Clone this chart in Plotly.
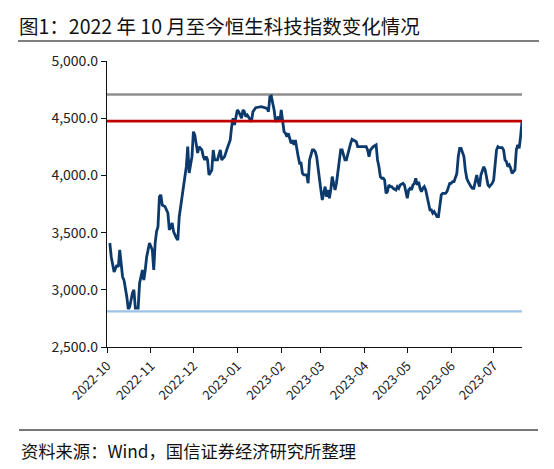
import plotly.graph_objs as go

# 恒生科技指数
dates = [
    "2022-10-03", "2022-10-04", "2022-10-06", "2022-10-08", "2022-10-09", "2022-10-10",
    "2022-10-12", "2022-10-13", "2022-10-15", "2022-10-16", "2022-10-17", "2022-10-19",
    "2022-10-20", "2022-10-21", "2022-10-23", "2022-10-24", "2022-10-26", "2022-10-27",
    "2022-10-28", "2022-10-29", "2022-10-31", "2022-11-02", "2022-11-03", "2022-11-04",
    "2022-11-05", "2022-11-06", "2022-11-07", "2022-11-08", "2022-11-09", "2022-11-11",
    "2022-11-13", "2022-11-14", "2022-11-16", "2022-11-17", "2022-11-19", "2022-11-20",
    "2022-11-21", "2022-11-23", "2022-11-24", "2022-11-26", "2022-11-27", "2022-11-28",
    "2022-11-30", "2022-12-01", "2022-12-02", "2022-12-03", "2022-12-04", "2022-12-05",
    "2022-12-07", "2022-12-08", "2022-12-09", "2022-12-10", "2022-12-11", "2022-12-12",
    "2022-12-14", "2022-12-15", "2022-12-16", "2022-12-18", "2022-12-20", "2022-12-21",
    "2022-12-23", "2022-12-25", "2022-12-27", "2022-12-28", "2022-12-29", "2022-12-30",
    "2022-12-31", "2023-01-01", "2023-01-02", "2023-01-04", "2023-01-05", "2023-01-06",
    "2023-01-07", "2023-01-08", "2023-01-11", "2023-01-12", "2023-01-14", "2023-01-18",
    "2023-01-22", "2023-01-23", "2023-01-24", "2023-01-25", "2023-01-26", "2023-01-27",
    "2023-01-28", "2023-01-29", "2023-01-30", "2023-01-31", "2023-02-01", "2023-02-02",
    "2023-02-03", "2023-02-04", "2023-02-05", "2023-02-06", "2023-02-08", "2023-02-09",
    "2023-02-10", "2023-02-11", "2023-02-12", "2023-02-13", "2023-02-14", "2023-02-15",
    "2023-02-16", "2023-02-17", "2023-02-19", "2023-02-20", "2023-02-21", "2023-02-22",
    "2023-02-23", "2023-02-24", "2023-02-25", "2023-02-26", "2023-02-27", "2023-02-28",
    "2023-03-01", "2023-03-02", "2023-03-03", "2023-03-04", "2023-03-05", "2023-03-06",
    "2023-03-07", "2023-03-08", "2023-03-09", "2023-03-10", "2023-03-11", "2023-03-12",
    "2023-03-13", "2023-03-14", "2023-03-15", "2023-03-16", "2023-03-17", "2023-03-18",
    "2023-03-19", "2023-03-20", "2023-03-21", "2023-03-22", "2023-03-23", "2023-03-24",
    "2023-03-26", "2023-03-27", "2023-03-28", "2023-03-30", "2023-03-31", "2023-04-02",
    "2023-04-03", "2023-04-04", "2023-04-05", "2023-04-06", "2023-04-07", "2023-04-09",
    "2023-04-10", "2023-04-11", "2023-04-12", "2023-04-13", "2023-04-14", "2023-04-15",
    "2023-04-16", "2023-04-17", "2023-04-18", "2023-04-19", "2023-04-20", "2023-04-21",
    "2023-04-23", "2023-04-24", "2023-04-25", "2023-04-26", "2023-04-28", "2023-04-29",
    "2023-04-30", "2023-05-01", "2023-05-02", "2023-05-03", "2023-05-04", "2023-05-05",
    "2023-05-06", "2023-05-07", "2023-05-08", "2023-05-09", "2023-05-10", "2023-05-11",
    "2023-05-12", "2023-05-13", "2023-05-14", "2023-05-15", "2023-05-16", "2023-05-17",
    "2023-05-18", "2023-05-19", "2023-05-20", "2023-05-21", "2023-05-22", "2023-05-23",
    "2023-05-24", "2023-05-25", "2023-05-26", "2023-05-28", "2023-05-29", "2023-05-30",
    "2023-05-31", "2023-06-01", "2023-06-02", "2023-06-03", "2023-06-04", "2023-06-05",
    "2023-06-06", "2023-06-07", "2023-06-08", "2023-06-09", "2023-06-10", "2023-06-11",
    "2023-06-12", "2023-06-13", "2023-06-14", "2023-06-15", "2023-06-16", "2023-06-17",
    "2023-06-18", "2023-06-19", "2023-06-20", "2023-06-21", "2023-06-22", "2023-06-23",
    "2023-06-24", "2023-06-25", "2023-06-26", "2023-06-27", "2023-06-28", "2023-06-29",
    "2023-06-30", "2023-07-01", "2023-07-02", "2023-07-03", "2023-07-04", "2023-07-05",
    "2023-07-07", "2023-07-08", "2023-07-09", "2023-07-10", "2023-07-11", "2023-07-12",
    "2023-07-13", "2023-07-14", "2023-07-16", "2023-07-17", "2023-07-18", "2023-07-19",
    "2023-07-20", "2023-07-21",
]
hstech = [
    3409, 3287, 3155, 3217, 3200, 3348,
    3112, 3085, 2937, 2832, 2850, 2972,
    3000, 2841, 2841, 3058, 3173, 3085,
    3173, 3287, 3409, 3348, 3173, 3409,
    3510, 3552, 3814, 3829, 3741, 3727,
    3671, 3523, 3584, 3508, 3452, 3435,
    3639, 3814, 3873, 4076, 4251, 4021,
    4164, 4382, 4353, 4283, 4196, 4251,
    4222, 4164, 4135, 4164, 4135, 4004,
    4047, 4222, 4135, 4135, 4222, 4135,
    4164, 4240, 4309, 4426, 4499, 4441,
    4514, 4572, 4557, 4499, 4572, 4557,
    4514, 4528, 4470, 4557, 4592, 4601,
    4586, 4557, 4688, 4694, 4630, 4572,
    4470, 4485, 4514, 4470, 4572, 4470,
    4382, 4368, 4339, 4368, 4280, 4309,
    4266, 4309, 4222, 4164, 4106, 4106,
    4018, 4004, 4004, 3931, 4135, 4193,
    4222, 4222, 4207, 4164, 4047, 3960,
    3873, 3785, 3843, 3902, 3814, 3873,
    3800, 3873, 3989, 3916, 3873, 3931,
    4018, 4135, 4222, 4222, 4178, 4135,
    4135, 4193, 4251, 4280, 4315, 4309,
    4295, 4251, 4251, 4251, 4251, 4251,
    4222, 4164, 4222, 4237, 4251, 4266,
    4135, 4076, 3989, 3975, 3975, 3960,
    3843, 3858, 3916, 3902, 3902, 3887,
    3873, 3902, 3887, 3916, 3931, 3916,
    3843, 3800, 3873, 3887, 3873, 3916,
    3931, 3975, 3916, 3945, 3887, 3858,
    3887, 3902, 3873, 3814, 3727, 3698,
    3698, 3669, 3683, 3654, 3639, 3639,
    3756, 3829, 3843, 3843, 3858, 3902,
    3931, 3931, 3945, 3945, 3989, 4018,
    4164, 4237, 4237, 4207, 4164, 4047,
    3975, 3945, 3916, 3902, 3887, 3887,
    3945, 4004, 3945, 3902, 4004, 4047,
    4076, 4047, 3960, 3916, 3902, 3916,
    3931, 3960, 4076, 4222, 4251, 4243,
    4243, 4222, 4135, 4120, 4076, 4091,
    4062, 4018, 4047, 4222, 4266, 4237,
    4339, 4470,
]

# reference levels
level_high = 4707
level_now = 4474
level_low = 2811

x_range = ["2022-10-01", "2023-07-21"]

W, H = 554, 469
ML, MR, MT, MB = 107, 32, 61, 122
FONT = "Noto Sans CJK SC"


def px(x):
    return (x - ML) / (W - ML - MR)


def py(y):
    return (H - MB - y) / (H - MT - MB)


data = [
    go.Scatter(x=x_range, y=[level_high] * 2, mode="lines",
               line=dict(color="#8f8f8f", width=2.6), hoverinfo="skip"),
    go.Scatter(x=x_range, y=[level_low] * 2, mode="lines",
               line=dict(color="#9dc3e6", width=2.4), hoverinfo="skip"),
    go.Scatter(x=dates, y=hstech, mode="lines",
               line=dict(color="#0d3a6c", width=2.8)),
    go.Scatter(x=x_range, y=[level_now] * 2, mode="lines",
               line=dict(color="#c00000", width=2.6), hoverinfo="skip"),
]

layout = go.Layout(
    width=W, height=H,
    margin=dict(l=ML, r=MR, t=MT, b=MB),
    paper_bgcolor="white", plot_bgcolor="white",
    showlegend=False,
    font=dict(family=FONT, color="#222222"),
    xaxis=dict(
        type="date", range=x_range, tick0="2022-10-01", dtick="M1",
        tickformat="%Y-%m", tickangle=-45, ticks="outside", ticklen=5,
        tickwidth=1.3, tickcolor="#111111", showline=True, linecolor="#111111",
        linewidth=1.3, showgrid=False, zeroline=False,
        tickfont=dict(size=13, family=FONT, color="#222222"),
    ),
    yaxis=dict(
        range=[2500, 5000], dtick=500, tickformat=",.1f", ticks="outside",
        ticklen=5, tickwidth=1.3, tickcolor="#111111", showline=True,
        linecolor="#111111", linewidth=1.3, showgrid=False, zeroline=False,
        tickfont=dict(size=14, family=FONT, color="#222222"),
    ),
    shapes=[
        dict(type="line", xref="paper", yref="paper", x0=px(18), x1=px(539),
             y0=py(41), y1=py(41), line=dict(color="#555555", width=1.6)),
        dict(type="line", xref="paper", yref="paper", x0=px(19), x1=px(538),
             y0=py(430), y1=py(430), line=dict(color="#777777", width=1.8)),
    ],
    annotations=[
        dict(text="图1：2022 年 10 月至今恒生科技指数变化情况", xref="paper", yref="paper",
             x=px(17), y=py(25), xanchor="left", yanchor="middle", showarrow=False,
             font=dict(size=19.5, family=FONT, color="#111111")),
        dict(text="资料来源：Wind，国信证券经济研究所整理", xref="paper", yref="paper",
             x=px(19), y=py(450), xanchor="left", yanchor="middle", showarrow=False,
             font=dict(size=17.3, family=FONT, color="#111111")),
    ],
)

fig = go.Figure(data=data, layout=layout)
# drop the page's default 8px body margin so the figure sits at the window corner
fig.write_html("out.html", config={"displayModeBar": False},
               post_script="document.body.style.margin='0';")
